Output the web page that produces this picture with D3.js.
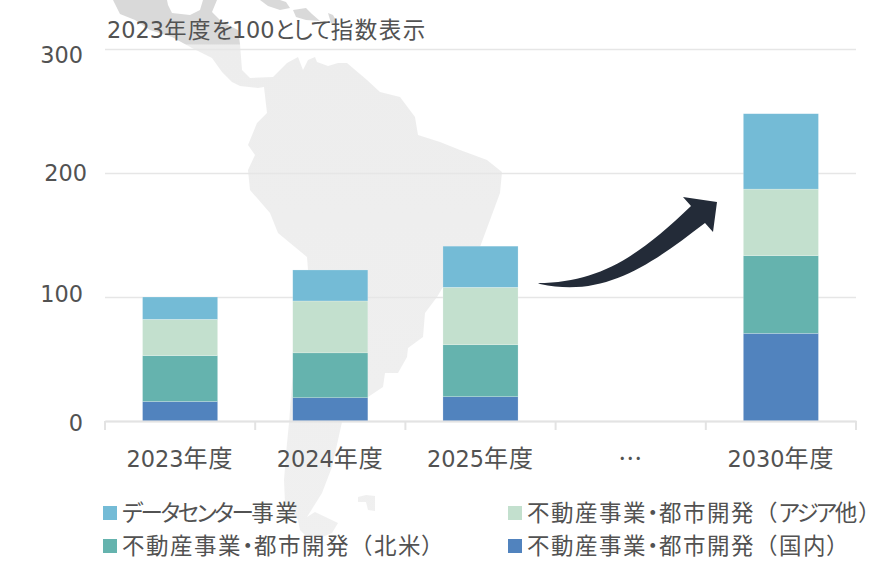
<!DOCTYPE html>
<html>
<head>
<meta charset="utf-8">
<script src="https://cdn.jsdelivr.net/npm/d3@7"></script>
<style>
  html, body { margin: 0; background: #fff; }
  svg { display: block; }
  text { fill: #525252; font-family: "Noto Sans CJK JP", sans-serif; }
  .digits { font-family: "DejaVu Sans", sans-serif; }
  .kana { font-feature-settings: "palt"; }
</style>
</head>
<body>
<div id="chart"></div>
<script>
// data
var years = ["2023年度", "2024年度", "2025年度", "…", "2030年度"];
var domestic = [15.7, 18.8, 19.6, 0, 70.7];
var northAmerica = [37, 36.2, 41.9, 0, 62.6];
var asiaOther = [29.3, 41.8, 46.3, 0, 53.7];
var dataCenter = [18, 25, 33.2, 0, 60.8];
var yTicks = [0, 100, 200, 300];
var seriesNames = ["不動産事業・都市開発（国内）", "不動産事業・都市開発（北米）", "不動産事業・都市開発（アジア他）", "データセンター事業"];
var seriesColors = ["#5183be", "#65b3ae", "#c3e0ce", "#74bbd6"];
var subtitle = "2023年度を100として指数表示";

// background map outlines (page pixels)
var southAmerica = [[113,0],[120,14],[135,20],[150,30],[172,37],[192,48],[212,58],[222,72],[232,82],[240,86],[258,88],[264,87],[267,113],[257,123],[248,145],[255,155],[248,170],[250,190],[270,213],[278,233],[307,257],[308,270],[300,330],[292,383],[289,423],[287,443],[284,480],[285,503],[298,520],[300,530],[305,535],[320,538],[332,533],[338,523],[315,512],[307,517],[322,493],[332,467],[342,422],[368,397],[383,387],[385,373],[398,373],[407,357],[408,348],[423,337],[425,313],[437,297],[443,287],[480,247],[500,193],[502,172],[487,160],[460,150],[440,142],[418,135],[415,117],[400,97],[380,92],[367,80],[347,63],[338,63],[328,66],[317,62],[315,57],[308,60],[303,70],[298,57],[287,63],[273,77],[250,78],[242,70],[240,44],[238,30],[222,22],[212,12],[217,0],[203,0],[200,10],[190,15],[172,13],[168,5],[167,0]];
var cuba = [[260,0],[268,6],[280,10],[290,8],[286,2],[280,0]];
var hispaniola = [[293,10],[306,8],[312,14],[320,21],[306,20],[296,17]];
var antilles = [[328,13],[333,15],[337,22],[331,23]];
var falklands = [[358,497],[366,495],[375,496],[375,511],[368,510],[366,502],[358,502]];

// set margins
var svgW = 873, svgH = 563;
var margin = { left: 105, right: 17, top: 49, bottom: 142 },
    width = svgW - margin.left - margin.right,
    height = svgH - margin.top - margin.bottom;

var svg = d3.select("#chart").append("svg")
    .attr("width", svgW)
    .attr("height", svgH);

// split into runs so digits, kana and kanji can each get their own spacing
function mixedText(sel, str, kanaSpacing, kanjiSize, kanjiSpacing) {
    sel.text(null);
    (str.match(/[0-9]+|[ぁ-んァ-ヶー）]+|・|[^0-9ぁ-んァ-ヶー・）]+/g) || []).forEach(function(run) {
        var t = sel.append("tspan").text(run);
        if (/^[0-9]/.test(run)) {
            t.attr("class", "digits").attr("font-size", 22.4);
        } else if (/^[ぁ-んァ-ヶー）]/.test(run)) {
            t.attr("class", "kana").attr("font-size", 22.5).attr("letter-spacing", kanaSpacing);
        } else if (run == "・") {
            t.attr("class", "kana").attr("font-size", 22.5).attr("letter-spacing", 0.6);
        } else {
            t.attr("font-size", kanjiSize).attr("letter-spacing", kanjiSpacing);
        }
    });
}

// map behind the chart
var defs = svg.append("defs");
var grad = defs.append("linearGradient").attr("id", "mapFill")
    .attr("gradientUnits", "userSpaceOnUse")
    .attr("x1", 0).attr("x2", 0).attr("y1", 0).attr("y2", 563);
[[0, "#d9d9d9"], [0.078, "#d9d9d9"], [0.08, "#ededed"], [1, "#f0f0f0"]].forEach(function(s) {
    grad.append("stop").attr("offset", s[0]).attr("stop-color", s[1]);
});
var mapLine = d3.line().curve(d3.curveLinearClosed);
svg.append("g").selectAll("path")
    .data([southAmerica, cuba, hispaniola, antilles, falklands])
    .enter().append("path")
    .attr("d", mapLine)
    .attr("fill", "url(#mapFill)");

var g = svg.append("g")
    .attr("transform", "translate(" + margin.left + "," + margin.top + ")");

// scales
var x = d3.scaleBand().domain(years).range([0, width]).paddingInner(0.5).paddingOuter(0.25);
var y = d3.scaleLinear().domain([0, 300]).range([height, 0]);

// y axis, gridlines from the ticks
var yLabelShift = { 0: [0, 1], 100: [0, -4], 200: [4, -1], 300: [0, 5] };
var yAxis = g.append("g")
    .call(d3.axisLeft(y).tickValues(yTicks).tickSize(-width).tickPadding(22));
yAxis.select(".domain").remove();
yAxis.selectAll(".tick line").attr("stroke", "#e6e6e6").attr("stroke-width", 1.6);
yAxis.selectAll(".tick text")
    .attr("class", "digits")
    .attr("font-size", 22.4)
    .attr("dx", function(d) { return yLabelShift[d][0]; })
    .attr("dy", function(d) { return 8 + yLabelShift[d][1]; });

// stacked bars
var rows = years.map(function(yr, i) {
    return { year: yr, a: domestic[i], b: northAmerica[i], c: asiaOther[i], d: dataCenter[i] };
});
var stack = d3.stack().keys(["a", "b", "c", "d"]);
g.selectAll(".layer")
    .data(stack(rows))
    .enter().append("g")
    .attr("class", "layer")
    .attr("fill", function(d, i) { return seriesColors[i]; })
    .selectAll("rect")
    .data(function(d) { return d; })
    .enter().append("rect")
    .attr("x", function(d) { return x(d.data.year); })
    .attr("y", function(d) { return y(d[1]); })
    .attr("width", x.bandwidth())
    .attr("height", function(d) { return y(d[0]) - y(d[1]); })
    .attr("stroke", "#fff")
    .attr("stroke-opacity", 0.35)
    .attr("stroke-width", 0.6);

// x axis
var xAxis = g.append("g")
    .attr("transform", "translate(0," + height + ")")
    .call(d3.axisBottom(x).tickSize(0).tickPadding(39));
xAxis.select(".domain").attr("stroke", "#e3e3e3").attr("stroke-width", 2);
xAxis.selectAll(".tick text").each(function(d) {
    mixedText(d3.select(this), d, 0, 24, 1);
});
d3.range(years.length + 1).forEach(function(i) {
    var px = i * x.step();
    xAxis.append("line")
        .attr("x1", px).attr("x2", px)
        .attr("y1", 0).attr("y2", 9)
        .attr("stroke", "#e3e3e3")
        .attr("stroke-width", 2);
});

// subtitle
svg.append("text")
    .attr("x", 107)
    .attr("y", 38)
    .call(mixedText, subtitle, -0.9, 22.5, 1.5);

// arrow
svg.append("path")
    .attr("d", "M538,283 C600,283 640,255 691,206 L683,197 L717,202 L713,232 L705,223 C650,265 605,298 540,284 Z")
    .attr("fill", "#232b38");

// legend
var legendSpots = [[103, 506], [508, 506], [103, 539], [508, 539]];
var legendOrder = [3, 2, 1, 0];
legendOrder.forEach(function(s, i) {
    var row = svg.append("g")
        .attr("transform", "translate(" + legendSpots[i][0] + "," + legendSpots[i][1] + ")");
    row.append("rect")
        .attr("width", 14)
        .attr("height", 14)
        .attr("fill", seriesColors[s]);
    row.append("text")
        .attr("x", 19)
        .attr("y", 15)
        .call(mixedText, seriesNames[s], -2.4, 22.5, 1.5);
});
</script>
</body>
</html>
